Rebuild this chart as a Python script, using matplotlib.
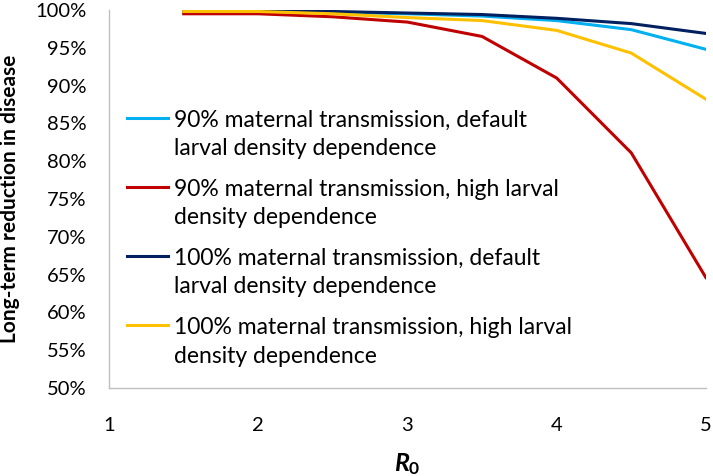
import matplotlib.pyplot as plt
from matplotlib.ticker import FuncFormatter
from matplotlib.legend_handler import HandlerLine2D

plt.rcParams['font.family'] = ['Lato', 'DejaVu Sans']
plt.rcParams['mathtext.fontset'] = 'custom'
plt.rcParams['mathtext.it'] = 'Lato:italic:bold'
plt.rcParams['mathtext.rm'] = 'Lato:bold'

# R0 values
r0 = [1.5, 2, 2.5, 3, 3.5, 4, 4.5, 5]

# long-term reduction in disease (%)
mt90_default = [99.8, 99.8, 99.7, 99.5, 99.2, 98.6, 97.4, 94.8]
mt90_high = [99.5, 99.5, 99.1, 98.4, 96.5, 91.0, 81.1, 64.6]
mt100_default = [99.8, 99.8, 99.8, 99.6, 99.4, 98.9, 98.2, 96.9]
mt100_high = [99.8, 99.8, 99.5, 99.0, 98.6, 97.3, 94.3, 88.2]

labels = ['90% maternal transmission, default\nlarval density dependence',
          '90% maternal transmission, high larval\ndensity dependence',
          '100% maternal transmission, default\nlarval density dependence',
          '100% maternal transmission, high larval\ndensity dependence']
colors = ['#00B0F0', '#C00000', '#002060', '#FFC000']


# legend line sits next to the first line of the label (like excel)
class FirstLineHandler(HandlerLine2D):
    def create_artists(self, legend, orig_handle, xdescent, ydescent,
                       width, height, fontsize, trans):
        shift = 0.75 * fontsize
        return super().create_artists(legend, orig_handle, xdescent, ydescent - 2 * shift,
                                      width, height, fontsize, trans)


fig = plt.figure(figsize=(7.13, 4.76), dpi=100)
ax = fig.add_axes([0.153, 0.185, 0.837, 0.794])

lines = []
for ys, c, lab in zip([mt90_default, mt90_high, mt100_default, mt100_high], colors, labels):
    l, = ax.plot(r0, ys, color=c, lw=2.2, label=lab)
    lines.append(l)

ax.set_xlim(1, 5)
ax.set_ylim(50, 100)
ax.set_xticks([1, 2, 3, 4, 5])
ax.set_yticks(range(50, 101, 5))
ax.yaxis.set_major_formatter(FuncFormatter(lambda v, p: '%d%%' % v))
ax.tick_params(length=0, labelsize=14.5, colors='black')
ax.tick_params(axis='x', pad=21)
ax.tick_params(axis='y', pad=16)

for s in ['top', 'right']:
    ax.spines[s].set_visible(False)
for s in ['left', 'bottom']:
    ax.spines[s].set_color('#BFBFBF')
    ax.spines[s].set_linewidth(1)

ax.set_ylabel('Long-term reduction in disease', fontsize=15, fontweight='bold', labelpad=11)
ax.set_xlabel('$R_0$', fontsize=18, labelpad=12)

leg = ax.legend(handles=lines, loc='upper left', bbox_to_anchor=(0.0, 0.785), frameon=False,
                fontsize=16.5, handlelength=1.75, handletextpad=0.3, labelspacing=0.85,
                borderaxespad=0.4, handler_map={l: FirstLineHandler() for l in lines})
for t in leg.get_texts():
    t.set_linespacing(1.45)

fig.savefig('out.png', dpi=100)
